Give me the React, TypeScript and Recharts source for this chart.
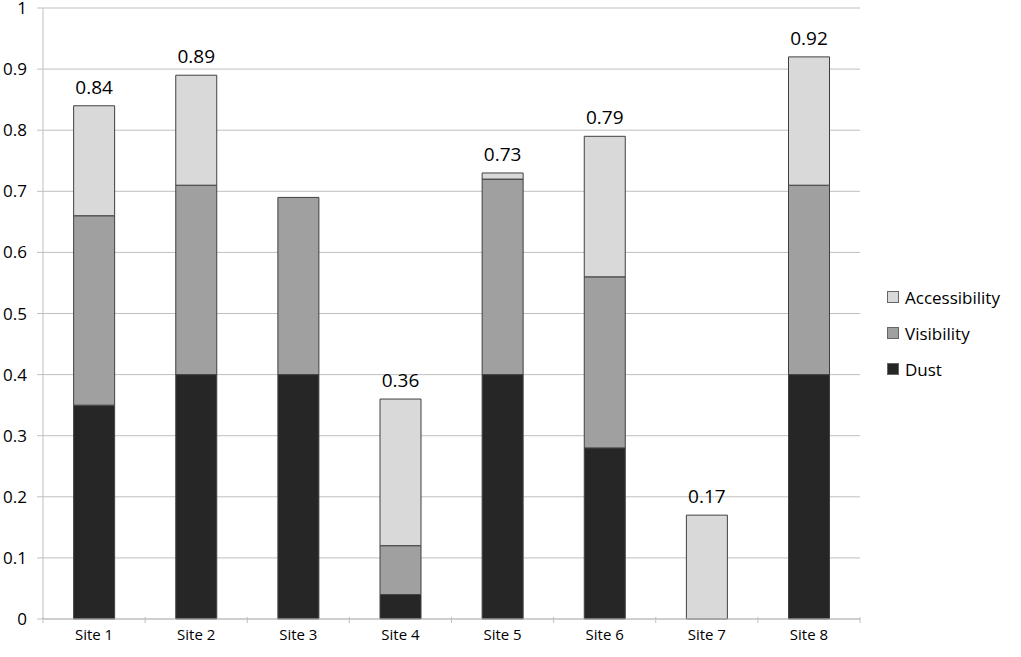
import { BarChart, Bar, XAxis, YAxis, CartesianGrid, LabelList } from "recharts"

const SITES = ["Site 1", "Site 2", "Site 3", "Site 4", "Site 5", "Site 6", "Site 7", "Site 8"]
const DUST = [0.35, 0.4, 0.4, 0.04, 0.4, 0.28, 0, 0.4]
const VISIBILITY = [0.31, 0.31, 0.29, 0.08, 0.32, 0.28, 0, 0.31]
const ACCESSIBILITY = [0.18, 0.18, 0, 0.24, 0.01, 0.23, 0.17, 0.21]
const TOTALS = [0.84, 0.89, 0.69, 0.36, 0.73, 0.79, 0.17, 0.92]
const Y_TICKS = [0, 0.1, 0.2, 0.3, 0.4, 0.5, 0.6, 0.7, 0.8, 0.9, 1]

const COLORS = {
  dust: "#262626",
  visibility: "#a0a0a0",
  accessibility: "#d9d9d9",
}

const FONT = "'Open Sans', 'Liberation Sans', sans-serif"

const CHART_W = 1021
const CHART_H = 657
const MARGIN = { top: 8, right: 161, bottom: 8, left: 0 }
const Y_AXIS_W = 43
const BAND = (CHART_W - MARGIN.left - MARGIN.right - Y_AXIS_W) / SITES.length

const data = SITES.map((site, i) => ({
  site,
  dust: DUST[i],
  visibility: VISIBILITY[i],
  accessibility: ACCESSIBILITY[i],
  total: TOTALS[i],
}))

const LEGEND_ITEMS = [
  { key: "accessibility", label: "Accessibility" },
  { key: "visibility", label: "Visibility" },
  { key: "dust", label: "Dust" },
]

function SideLegend() {
  return (
    <div style={{ position: "absolute", left: 887, top: 279, fontFamily: FONT, fontSize: 17, color: "#000" }}>
      {LEGEND_ITEMS.map((item) => (
        <div key={item.key} style={{ display: "flex", alignItems: "center", height: 36 }}>
          <span
            style={{
              width: 12,
              height: 12,
              marginRight: 6,
              background: COLORS[item.key as keyof typeof COLORS],
              border: "1px solid #666",
              boxSizing: "border-box",
            }}
          />
          <span>{item.label}</span>
        </div>
      ))}
    </div>
  )
}

// category label plus the tick marks that sit on the category edges
function SiteTick(props: any) {
  const { x, y, payload, index, visibleTicksCount } = props
  const y0 = y - 8
  return (
    <g>
      <line x1={x - BAND / 2} x2={x - BAND / 2} y1={y0} y2={y0 + 6} stroke="#bfbfbf" />
      {index === visibleTicksCount - 1 && (
        <line x1={x + BAND / 2} x2={x + BAND / 2} y1={y0} y2={y0 + 6} stroke="#bfbfbf" />
      )}
      <text x={x} y={y0 + 23} textAnchor="middle" fontFamily={FONT} fontSize={15} fill="#000">
        {payload.value}
      </text>
    </g>
  )
}

export default function App() {
  return (
    <div style={{ position: "absolute", left: 0, top: 0, width: CHART_W, height: CHART_H, background: "#fff" }}>
      <BarChart
        width={CHART_W}
        height={CHART_H}
        data={data}
        margin={MARGIN}
        barCategoryGap="30%"
      >
        <CartesianGrid vertical={false} stroke="#bfbfbf" strokeWidth={1} />
        <XAxis
          dataKey="site"
          height={30}
          axisLine={{ stroke: "#bfbfbf" }}
          tickLine={false}
          tick={<SiteTick />}
          tickMargin={0}
          interval={0}
        />
        <YAxis
          width={Y_AXIS_W}
          domain={[0, 1]}
          ticks={Y_TICKS}
          axisLine={{ stroke: "#bfbfbf" }}
          tickLine={{ stroke: "#bfbfbf" }}
          tickSize={6}
          tickMargin={10}
          tick={{ fontFamily: FONT, fontSize: 17, fill: "#000" }}
          interval={0}
        />
        <Bar dataKey="dust" stackId="a" fill={COLORS.dust} stroke="#404040" strokeWidth={1} isAnimationActive={false} />
        <Bar dataKey="visibility" stackId="a" fill={COLORS.visibility} stroke="#404040" strokeWidth={1} isAnimationActive={false} />
        <Bar dataKey="accessibility" stackId="a" fill={COLORS.accessibility} stroke="#404040" strokeWidth={1} isAnimationActive={false}>
          <LabelList
            dataKey="total"
            position="top"
            offset={12}
            style={{ fontFamily: FONT, fontSize: 19, fill: "#000" }}
          />
        </Bar>
      </BarChart>
      <SideLegend />
    </div>
  )
}
